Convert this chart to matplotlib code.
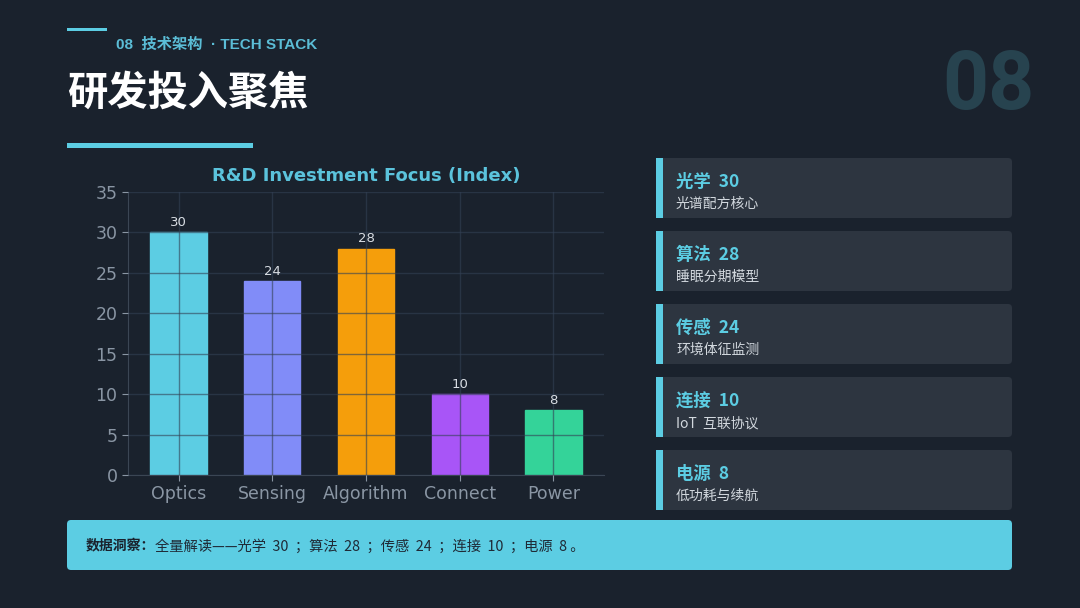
import matplotlib.pyplot as plt
from matplotlib.patches import FancyBboxPatch, Rectangle

plt.rcParams['font.family'] = ['DejaVu Sans', 'Noto Sans CJK SC']
CJK = ['Noto Sans CJK SC', 'DejaVu Sans']

# data
categories = ['Optics', 'Sensing', 'Algorithm', 'Connect', 'Power']
values = [30, 24, 28, 10, 8]
bar_colors = ['#5ccde3', '#818cf8', '#f59e0b', '#a855f7', '#34d399']

card_names = ['光学', '算法', '传感', '连接', '电源']
card_values = [30, 28, 24, 10, 8]
card_notes = ['光谱配方核心', '睡眠分期模型', '环境体征监测', 'IoT  互联协议', '低功耗与续航']

BG = '#1a222d'
CYAN = '#5ccde3'
CARD = '#2d3540'

fig = plt.figure(figsize=(10.8, 6.08), dpi=100, facecolor=BG)

# overlay in pixel coords for the slide decorations
deco = fig.add_axes([0, 0, 1, 1])
deco.set_xlim(0, 1080)
deco.set_ylim(608, 0)
deco.axis('off')
deco.set_facecolor(BG)

deco.add_patch(Rectangle((67, 27.5), 40, 3, color=CYAN, lw=0))
deco.text(116, 45, '08  技术架构  · TECH STACK', color='#5bbdd6', fontsize=11,
          fontweight='bold', va='center', family=['Liberation Sans', 'Noto Sans CJK SC'])
deco.text(67, 93, '研发投入聚焦', color='white', fontsize=29, fontweight='bold',
          va='center', family=CJK)
deco.add_patch(Rectangle((67, 142.5), 186, 5, color=CYAN, lw=0))
deco.text(1035, 87, '08', color='#27434f', fontsize=58, fontweight='bold',
          ha='right', va='center', family=['Roboto', 'DejaVu Sans'])

# right-hand cards
for i, (name, v, note) in enumerate(zip(card_names, card_values, card_notes)):
    top = 158 + i * 73
    deco.add_patch(FancyBboxPatch((656, top), 356, 60,
                                  boxstyle='round,pad=0,rounding_size=4',
                                  fc=CARD, ec='none'))
    deco.add_patch(Rectangle((656, top), 7, 60, color=CYAN, lw=0))
    deco.text(676, top + 24, f'{name}  {v}', color=CYAN, fontsize=12.5,
              fontweight='bold', va='center', family=CJK)
    deco.text(676, top + 46, note, color='#d2d8de', fontsize=10,
              va='center', family=CJK)

# bottom insight banner
deco.add_patch(FancyBboxPatch((67, 520), 945, 50,
                              boxstyle='round,pad=0,rounding_size=4',
                              fc=CYAN, ec='none'))
t1 = deco.text(86, 546, '数据洞察：', color='#1a222d', fontsize=10,
               fontweight='bold', va='center', family=CJK)
summary = ' ；'.join(f'{n}  {v} ' for n, v in zip(card_names, card_values))
fig.canvas.draw()
bb = t1.get_window_extent()
x_next = deco.transData.inverted().transform((bb.x1, bb.y0))[0]
deco.text(x_next, 546, '全量解读——' + summary + '。', color='#1f2a36',
          fontsize=10.3, va='center', family=CJK)

# bar chart
ax = fig.add_axes([128 / 1080, 1 - 475 / 608, (604 - 128) / 1080, (475 - 192) / 608])
ax.set_facecolor(BG)
x = range(len(categories))
bars = ax.bar(x, values, width=0.6, color=bar_colors, edgecolor=bar_colors,
              linewidth=1, zorder=1)
for xi, v in zip(x, values):
    ax.text(xi, v + 0.4, str(v), ha='center', va='bottom', color='#d8dde3', fontsize=9.5)
ax.set_xlim(-0.54, 4.54)
ax.set_ylim(0, 35)
ax.set_yticks(range(0, 36, 5))
ax.set_xticks(list(x))
ax.set_xticklabels(categories)
ax.tick_params(colors='#8a96a4', labelsize=12.5, length=4, width=0.8)
ax.grid(True, color='#334155', alpha=0.6, linewidth=1, zorder=3)
ax.set_axisbelow(False)
for s in ['top', 'right']:
    ax.spines[s].set_visible(False)
for s in ['left', 'bottom']:
    ax.spines[s].set_color('#3b4654')
ax.set_title('R&D Investment Focus (Index)', color='#5bc3dc', fontsize=13,
             fontweight='bold', pad=8)

fig.savefig('out.png', dpi=100, facecolor=BG)
